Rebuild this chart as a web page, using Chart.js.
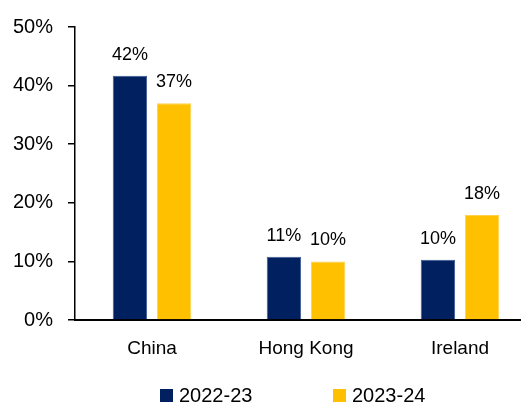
<!DOCTYPE html>
<html lang="en">
<head>
  <meta charset="UTF-8">
  <title>Share by country</title>
  <style>
    body {
      margin: 0;
      background: #fff;
      overflow: hidden;
      font-family: "Liberation Sans", Arial, sans-serif;
    }
    .wrap {
      position: relative;
      width: 540px;
      height: 407px;
    }
    .legend {
      position: absolute;
      top: 381px;
      font-size: 20px;
      color: #000;
      display: flex;
      align-items: center;
      line-height: 28px;
    }
    .legend span.box {
      display: inline-block;
      width: 13px;
      height: 13px;
      margin-right: 6px;
    }
  </style>
</head>
<body>
  <div class="wrap">
    <canvas id="chart" width="540" height="407"></canvas>
    <div id="legend"></div>
  </div>
  <script src="https://cdn.jsdelivr.net/npm/chart.js"></script>
  <script>
    const countries = ["China", "Hong Kong", "Ireland"];
    const seriesNames = ["2022-23", "2023-24"];
    const share2223 = [41.7, 10.8, 10.3];
    const share2324 = [37.0, 10.0, 17.9];
    const yTicks = [0, 10, 20, 30, 40, 50];

    const navy = "#002060";
    const gold = "#FFC000";
    const fontFamily = "'Liberation Sans', Arial, sans-serif";

    // value labels above each bar
    const barLabels = {
      id: "barLabels",
      afterDatasetsDraw(chart) {
        const ctx = chart.ctx;
        ctx.save();
        ctx.font = "18px " + fontFamily;
        ctx.fillStyle = "#000";
        ctx.textAlign = "center";
        ctx.textBaseline = "alphabetic";
        chart.data.datasets.forEach((ds, i) => {
          chart.getDatasetMeta(i).data.forEach((bar, j) => {
            ctx.fillText(Math.round(ds.data[j]) + "%", bar.x, bar.y - 16);
          });
        });
        ctx.restore();
      }
    };

    const ctx = document.getElementById("chart").getContext("2d");
    const chart = new Chart(ctx, {
      type: "bar",
      data: {
        labels: countries,
        datasets: [
          {
            label: seriesNames[0],
            data: share2223,
            backgroundColor: navy,
            borderColor: "#3a5a95",
            borderWidth: 1
          },
          {
            label: seriesNames[1],
            data: share2324,
            backgroundColor: gold,
            borderColor: "#ffd24d",
            borderWidth: 1
          }
        ]
      },
      options: {
        responsive: false,
        animation: false,
        categoryPercentage: 0.573,
        barPercentage: 0.78,
        layout: {
          padding: { top: 25, right: 3, bottom: 45, left: 0 }
        },
        plugins: {
          legend: { display: false },
          tooltip: { enabled: false }
        },
        scales: {
          x: {
            afterFit(scale) { scale.height = 42; },
            grid: { display: false, drawTicks: false },
            border: { display: true, color: "#000", width: 2 },
            ticks: {
              color: "#000",
              padding: 17,
              font: { family: fontFamily, size: 19 }
            }
          },
          y: {
            min: 0,
            max: 50,
            afterFit(scale) { scale.width = 75; },
            afterBuildTicks(scale) { scale.ticks = yTicks.map(v => ({ value: v })); },
            grid: {
              display: true,
              drawOnChartArea: false,
              drawTicks: true,
              tickLength: 7,
              color: "#000",
              lineWidth: 1.5
            },
            border: { display: true, color: "#000", width: 1.5 },
            ticks: {
              color: "#000",
              padding: 15,
              font: { family: fontFamily, size: 20 },
              callback: v => v + "%"
            }
          }
        }
      },
      plugins: [barLabels]
    });

    // legend below the plot
    const legendEl = document.getElementById("legend");
    const legendLeft = [160, 333];
    chart.data.datasets.forEach((ds, i) => {
      const item = document.createElement("div");
      item.className = "legend";
      item.style.left = legendLeft[i] + "px";
      const box = document.createElement("span");
      box.className = "box";
      box.style.background = ds.backgroundColor;
      item.appendChild(box);
      item.appendChild(document.createTextNode(ds.label));
      legendEl.appendChild(item);
    });
  </script>
</body>
</html>
